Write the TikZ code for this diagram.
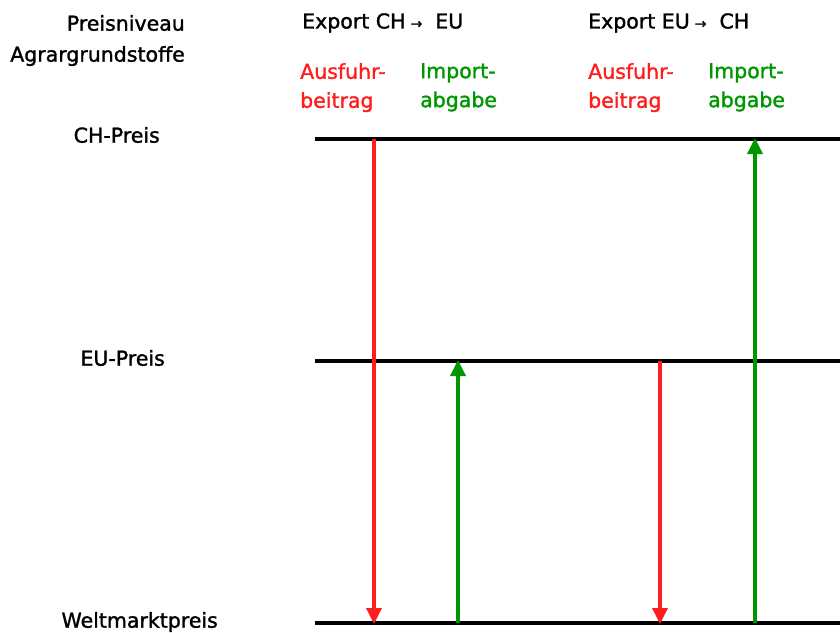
\documentclass[tikz,border=0pt]{standalone}
\usepackage{fontspec}
\setmainfont[FakeBold=1.4]{DejaVu Sans}
\usetikzlibrary{arrows.meta}
\definecolor{myred}{RGB}{255,30,30}
\definecolor{mygreen}{RGB}{0,150,0}
\begin{document}
\begin{tikzpicture}[x=1pt,y=-1pt,
  lbl/.style={font=\fontsize{20.5}{29}\selectfont, inner sep=0pt, align=left},
  level/.style={line width=3.5pt, black},
  arr/.style={line width=3.5pt, -{Triangle[length=16pt,width=15pt]}, shorten >=-1pt}]
\useasboundingbox (0,0) rectangle (840,632);
% headings
\node[lbl, anchor=east] (h1) at (185,23) {Preisniveau};
\node[lbl, anchor=east] (h2) at (185,56) {Agrargrundstoffe};
\node[lbl, anchor=west] (e1) at (302,23) {Export CH\kern5pt{\fontsize{14}{14}\selectfont →}\ \ EU};
\node[lbl, anchor=west] (e2) at (588,23) {Export EU\kern5pt{\fontsize{14}{14}\selectfont →}\ \ CH};
\node[lbl, anchor=north west, text=myred] (a1) at (300,63) {Ausfuhr-\\beitrag};
\node[lbl, anchor=north west, text=mygreen] (i1) at (420,63) {Import-\\abgabe};
\node[lbl, anchor=north west, text=myred] (a2) at (588,63) {Ausfuhr-\\beitrag};
\node[lbl, anchor=north west, text=mygreen] (i2) at (708,63) {Import-\\abgabe};
% level labels
\node[lbl, anchor=east] (lch) at (160,135) {CH-Preis};
\node[lbl, anchor=east] (leu) at (165,358) {EU-Preis};
\node[lbl, anchor=east] (lw) at (218,622) {Weltmarktpreis};
% level lines
\coordinate (chL) at (315,139); \coordinate (chR) at (840,139);
\coordinate (euL) at (315,361); \coordinate (euR) at (840,361);
\coordinate (wL) at (315,623); \coordinate (wR) at (840,623);
\draw[level] (chL) -- (chR);
\draw[level] (euL) -- (euR);
\draw[level] (wL) -- (wR);
% arrows
\coordinate (r1s) at (374,139); \coordinate (r1e) at (374,623);
\coordinate (g1s) at (458,623); \coordinate (g1e) at (458,361);
\coordinate (r2s) at (660,361); \coordinate (r2e) at (660,623);
\coordinate (g2s) at (755,623); \coordinate (g2e) at (755,139);
\draw[arr, myred] (r1s) -- (r1e);
\draw[arr, mygreen] (g1s) -- (g1e);
\draw[arr, myred] (r2s) -- (r2e);
\draw[arr, mygreen] (g2s) -- (g2e);
\end{tikzpicture}
\end{document}
